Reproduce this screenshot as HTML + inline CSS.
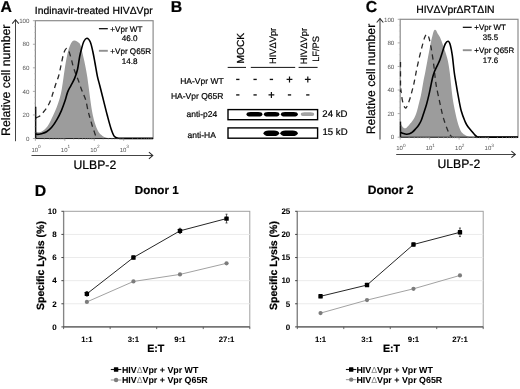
<!DOCTYPE html>
<html><head><meta charset="utf-8"><title>Figure</title>
<style>
html,body{margin:0;padding:0;background:#fff;width:520px;height:389px;overflow:hidden}
svg{display:block;filter:blur(0.4px)}
text{font-family:"Liberation Sans",sans-serif;text-rendering:geometricPrecision}
</style></head>
<body><svg width="520" height="389" viewBox="0 0 520 389">
<rect x="0" y="0" width="520" height="389" fill="#fff"/>
<text x="0.40" y="11.80" font-size="15.80" text-anchor="start" font-weight="bold" stroke="#000" stroke-width="0.22" fill="#000">A</text>
<text x="170.70" y="12.40" font-size="15.80" text-anchor="start" font-weight="bold" stroke="#000" stroke-width="0.22" fill="#000">B</text>
<text x="365.70" y="12.30" font-size="15.80" text-anchor="start" font-weight="bold" stroke="#000" stroke-width="0.22" fill="#000">C</text>
<text x="34.70" y="195.60" font-size="15.80" text-anchor="start" font-weight="bold" stroke="#000" stroke-width="0.22" fill="#000">D</text>
<path d="M35.50,131.50 C36.17,131.62 38.08,132.47 39.50,132.20 C40.92,131.93 42.50,131.15 44.00,129.90 C45.50,128.65 47.00,127.07 48.50,124.70 C50.00,122.33 51.60,118.70 53.00,115.70 C54.40,112.70 55.77,109.65 56.90,106.70 C58.03,103.75 58.98,100.95 59.80,98.00 C60.62,95.05 61.20,92.30 61.80,89.00 C62.40,85.70 62.85,81.93 63.40,78.20 C63.95,74.47 64.57,69.97 65.10,66.60 C65.63,63.23 66.07,60.68 66.60,58.00 C67.13,55.32 67.70,52.67 68.30,50.50 C68.90,48.33 69.55,46.48 70.20,45.00 C70.85,43.52 71.53,42.37 72.20,41.60 C72.87,40.83 73.38,40.43 74.20,40.40 C75.02,40.37 76.18,40.87 77.10,41.40 C78.02,41.93 79.02,42.58 79.70,43.60 C80.38,44.62 80.70,45.77 81.20,47.50 C81.70,49.23 82.18,51.75 82.70,54.00 C83.22,56.25 83.77,58.50 84.30,61.00 C84.83,63.50 85.40,66.33 85.90,69.00 C86.40,71.67 86.88,74.33 87.30,77.00 C87.72,79.67 88.00,82.00 88.40,85.00 C88.80,88.00 89.23,91.50 89.70,95.00 C90.17,98.50 90.65,102.50 91.20,106.00 C91.75,109.50 92.37,113.07 93.00,116.00 C93.63,118.93 94.25,121.27 95.00,123.60 C95.75,125.93 96.60,128.23 97.50,130.00 C98.40,131.77 99.15,133.00 100.40,134.20 C101.65,135.40 103.40,136.48 105.00,137.20 C106.60,137.92 109.17,138.28 110.00,138.50 L110.00,138.50 L35.50,138.50 Z" fill="#9c9c9c" stroke="none"/>
<path d="M35.60,118.00 C36.00,117.83 37.25,117.38 38.00,117.00 C38.75,116.62 39.18,116.53 40.10,115.70 C41.02,114.87 42.42,113.28 43.50,112.00 C44.58,110.72 45.65,109.42 46.60,108.00 C47.55,106.58 48.45,105.00 49.20,103.50 C49.95,102.00 50.48,100.72 51.10,99.00 C51.72,97.28 52.12,95.70 52.90,93.20 C53.68,90.70 54.83,86.90 55.80,84.00 C56.77,81.10 57.83,78.90 58.70,75.80 C59.57,72.70 60.28,68.70 61.00,65.40 C61.72,62.10 62.40,58.40 63.00,56.00 C63.60,53.60 64.05,52.25 64.60,51.00 C65.15,49.75 65.70,48.77 66.30,48.50 C66.90,48.23 67.60,48.45 68.20,49.40 C68.80,50.35 69.33,52.43 69.90,54.20 C70.47,55.97 71.05,57.93 71.60,60.00 C72.15,62.07 72.50,64.27 73.20,66.60 C73.90,68.93 74.93,71.68 75.80,74.00 C76.67,76.32 77.48,78.00 78.40,80.50 C79.32,83.00 80.40,86.58 81.30,89.00 C82.20,91.42 83.03,93.07 83.80,95.00 C84.57,96.93 85.18,97.90 85.90,100.60 C86.62,103.30 87.42,108.30 88.10,111.20 C88.78,114.10 89.35,115.70 90.00,118.00 C90.65,120.30 91.33,122.83 92.00,125.00 C92.67,127.17 93.37,129.17 94.00,131.00 C94.63,132.83 95.22,134.77 95.80,136.00 C96.38,137.23 97.22,138.00 97.50,138.40" fill="none" stroke="#2a2a2a" stroke-width="1.3" stroke-dasharray="5.2,4.0"/>
<rect x="35.40" y="20.70" width="117.70" height="117.80" fill="none" stroke="#8c8c8c" stroke-width="1.2"/>
<line x1="35.40" y1="138.50" x2="153.10" y2="138.50" stroke="#222" stroke-width="1"/>
<line x1="35.7" y1="106.8" x2="35.7" y2="138.5" stroke="#111" stroke-width="1.4"/>
<path d="M35.50,133.70 C35.85,133.82 36.62,134.40 37.60,134.40 C38.58,134.40 39.90,134.13 41.40,133.70 C42.90,133.27 44.88,132.87 46.60,131.80 C48.32,130.73 49.98,129.33 51.70,127.30 C53.42,125.27 55.28,122.38 56.90,119.60 C58.52,116.82 60.02,113.82 61.40,110.60 C62.78,107.38 64.17,103.38 65.20,100.30 C66.23,97.22 66.65,94.55 67.60,92.10 C68.55,89.65 69.73,87.88 70.90,85.60 C72.07,83.32 73.50,81.08 74.60,78.40 C75.70,75.72 76.67,73.07 77.50,69.50 C78.33,65.93 78.92,60.50 79.60,57.00 C80.28,53.50 80.90,51.08 81.60,48.50 C82.30,45.92 82.92,43.20 83.80,41.50 C84.68,39.80 85.82,38.22 86.90,38.30 C87.98,38.38 89.32,39.80 90.30,42.00 C91.28,44.20 92.02,48.00 92.80,51.50 C93.58,55.00 94.23,58.87 95.00,63.00 C95.77,67.13 96.58,72.47 97.40,76.30 C98.22,80.13 98.88,81.98 99.90,86.00 C100.92,90.02 102.25,95.43 103.50,100.40 C104.75,105.37 106.12,111.00 107.40,115.80 C108.68,120.60 110.02,125.73 111.20,129.20 C112.38,132.67 113.28,135.10 114.50,136.60 C115.72,138.10 116.75,137.90 118.50,138.20 C120.25,138.50 119.25,138.37 125.00,138.40 C130.75,138.43 148.33,138.40 153.00,138.40" fill="none" stroke="#000" stroke-width="1.6" stroke-linejoin="round"/>
<line x1="32.90" y1="138.50" x2="35.40" y2="138.50" stroke="#999" stroke-width="0.8"/>
<text x="29.50" y="140.70" font-size="6.20" text-anchor="end" fill="#555">0</text>
<line x1="34.10" y1="132.61" x2="35.40" y2="132.61" stroke="#bbb" stroke-width="0.6"/>
<line x1="34.10" y1="126.72" x2="35.40" y2="126.72" stroke="#bbb" stroke-width="0.6"/>
<line x1="34.10" y1="120.83" x2="35.40" y2="120.83" stroke="#bbb" stroke-width="0.6"/>
<line x1="32.90" y1="114.94" x2="35.40" y2="114.94" stroke="#999" stroke-width="0.8"/>
<text x="29.50" y="117.14" font-size="6.20" text-anchor="end" fill="#555">20</text>
<line x1="34.10" y1="109.05" x2="35.40" y2="109.05" stroke="#bbb" stroke-width="0.6"/>
<line x1="34.10" y1="103.16" x2="35.40" y2="103.16" stroke="#bbb" stroke-width="0.6"/>
<line x1="34.10" y1="97.27" x2="35.40" y2="97.27" stroke="#bbb" stroke-width="0.6"/>
<line x1="32.90" y1="91.38" x2="35.40" y2="91.38" stroke="#999" stroke-width="0.8"/>
<text x="29.50" y="93.58" font-size="6.20" text-anchor="end" fill="#555">40</text>
<line x1="34.10" y1="85.49" x2="35.40" y2="85.49" stroke="#bbb" stroke-width="0.6"/>
<line x1="34.10" y1="79.60" x2="35.40" y2="79.60" stroke="#bbb" stroke-width="0.6"/>
<line x1="34.10" y1="73.71" x2="35.40" y2="73.71" stroke="#bbb" stroke-width="0.6"/>
<line x1="32.90" y1="67.82" x2="35.40" y2="67.82" stroke="#999" stroke-width="0.8"/>
<text x="29.50" y="70.02" font-size="6.20" text-anchor="end" fill="#555">60</text>
<line x1="34.10" y1="61.93" x2="35.40" y2="61.93" stroke="#bbb" stroke-width="0.6"/>
<line x1="34.10" y1="56.04" x2="35.40" y2="56.04" stroke="#bbb" stroke-width="0.6"/>
<line x1="34.10" y1="50.15" x2="35.40" y2="50.15" stroke="#bbb" stroke-width="0.6"/>
<line x1="32.90" y1="44.26" x2="35.40" y2="44.26" stroke="#999" stroke-width="0.8"/>
<text x="29.50" y="46.46" font-size="6.20" text-anchor="end" fill="#555">80</text>
<line x1="34.10" y1="38.37" x2="35.40" y2="38.37" stroke="#bbb" stroke-width="0.6"/>
<line x1="34.10" y1="32.48" x2="35.40" y2="32.48" stroke="#bbb" stroke-width="0.6"/>
<line x1="34.10" y1="26.59" x2="35.40" y2="26.59" stroke="#bbb" stroke-width="0.6"/>
<line x1="32.90" y1="20.70" x2="35.40" y2="20.70" stroke="#999" stroke-width="0.8"/>
<text x="29.50" y="22.90" font-size="6.20" text-anchor="end" fill="#555">100</text>
<line x1="35.40" y1="138.50" x2="35.40" y2="140.80" stroke="#999" stroke-width="0.8"/>
<text x="38.10" y="151.70" font-size="6.00" text-anchor="end" fill="#555">10</text>
<text x="38.10" y="147.80" font-size="4.70" text-anchor="start" fill="#555">0</text>
<line x1="44.26" y1="138.50" x2="44.26" y2="139.80" stroke="#bbb" stroke-width="0.6"/>
<line x1="49.44" y1="138.50" x2="49.44" y2="139.80" stroke="#bbb" stroke-width="0.6"/>
<line x1="53.12" y1="138.50" x2="53.12" y2="139.80" stroke="#bbb" stroke-width="0.6"/>
<line x1="55.97" y1="138.50" x2="55.97" y2="139.80" stroke="#bbb" stroke-width="0.6"/>
<line x1="58.30" y1="138.50" x2="58.30" y2="139.80" stroke="#bbb" stroke-width="0.6"/>
<line x1="60.27" y1="138.50" x2="60.27" y2="139.80" stroke="#bbb" stroke-width="0.6"/>
<line x1="61.97" y1="138.50" x2="61.97" y2="139.80" stroke="#bbb" stroke-width="0.6"/>
<line x1="63.48" y1="138.50" x2="63.48" y2="139.80" stroke="#bbb" stroke-width="0.6"/>
<line x1="64.82" y1="138.50" x2="64.82" y2="140.80" stroke="#999" stroke-width="0.8"/>
<text x="67.52" y="151.70" font-size="6.00" text-anchor="end" fill="#555">10</text>
<text x="67.52" y="147.80" font-size="4.70" text-anchor="start" fill="#555">1</text>
<line x1="73.68" y1="138.50" x2="73.68" y2="139.80" stroke="#bbb" stroke-width="0.6"/>
<line x1="78.86" y1="138.50" x2="78.86" y2="139.80" stroke="#bbb" stroke-width="0.6"/>
<line x1="82.54" y1="138.50" x2="82.54" y2="139.80" stroke="#bbb" stroke-width="0.6"/>
<line x1="85.39" y1="138.50" x2="85.39" y2="139.80" stroke="#bbb" stroke-width="0.6"/>
<line x1="87.72" y1="138.50" x2="87.72" y2="139.80" stroke="#bbb" stroke-width="0.6"/>
<line x1="89.69" y1="138.50" x2="89.69" y2="139.80" stroke="#bbb" stroke-width="0.6"/>
<line x1="91.40" y1="138.50" x2="91.40" y2="139.80" stroke="#bbb" stroke-width="0.6"/>
<line x1="92.90" y1="138.50" x2="92.90" y2="139.80" stroke="#bbb" stroke-width="0.6"/>
<line x1="94.25" y1="138.50" x2="94.25" y2="140.80" stroke="#999" stroke-width="0.8"/>
<text x="96.95" y="151.70" font-size="6.00" text-anchor="end" fill="#555">10</text>
<text x="96.95" y="147.80" font-size="4.70" text-anchor="start" fill="#555">2</text>
<line x1="103.11" y1="138.50" x2="103.11" y2="139.80" stroke="#bbb" stroke-width="0.6"/>
<line x1="108.29" y1="138.50" x2="108.29" y2="139.80" stroke="#bbb" stroke-width="0.6"/>
<line x1="111.97" y1="138.50" x2="111.97" y2="139.80" stroke="#bbb" stroke-width="0.6"/>
<line x1="114.82" y1="138.50" x2="114.82" y2="139.80" stroke="#bbb" stroke-width="0.6"/>
<line x1="117.15" y1="138.50" x2="117.15" y2="139.80" stroke="#bbb" stroke-width="0.6"/>
<line x1="119.12" y1="138.50" x2="119.12" y2="139.80" stroke="#bbb" stroke-width="0.6"/>
<line x1="120.82" y1="138.50" x2="120.82" y2="139.80" stroke="#bbb" stroke-width="0.6"/>
<line x1="122.33" y1="138.50" x2="122.33" y2="139.80" stroke="#bbb" stroke-width="0.6"/>
<line x1="123.67" y1="138.50" x2="123.67" y2="140.80" stroke="#999" stroke-width="0.8"/>
<text x="126.37" y="151.70" font-size="6.00" text-anchor="end" fill="#555">10</text>
<text x="126.37" y="147.80" font-size="4.70" text-anchor="start" fill="#555">3</text>
<line x1="132.53" y1="138.50" x2="132.53" y2="139.80" stroke="#bbb" stroke-width="0.6"/>
<line x1="137.71" y1="138.50" x2="137.71" y2="139.80" stroke="#bbb" stroke-width="0.6"/>
<line x1="141.39" y1="138.50" x2="141.39" y2="139.80" stroke="#bbb" stroke-width="0.6"/>
<line x1="144.24" y1="138.50" x2="144.24" y2="139.80" stroke="#bbb" stroke-width="0.6"/>
<line x1="146.57" y1="138.50" x2="146.57" y2="139.80" stroke="#bbb" stroke-width="0.6"/>
<line x1="148.54" y1="138.50" x2="148.54" y2="139.80" stroke="#bbb" stroke-width="0.6"/>
<line x1="150.25" y1="138.50" x2="150.25" y2="139.80" stroke="#bbb" stroke-width="0.6"/>
<line x1="151.75" y1="138.50" x2="151.75" y2="139.80" stroke="#bbb" stroke-width="0.6"/>
<path d="M400.30,122.00 C400.52,122.53 401.12,124.30 401.60,125.20 C402.08,126.10 402.53,126.88 403.20,127.40 C403.87,127.92 404.80,128.48 405.60,128.30 C406.40,128.12 407.23,127.08 408.00,126.30 C408.77,125.52 409.48,124.50 410.20,123.60 C410.92,122.70 411.60,121.87 412.30,120.90 C413.00,119.93 413.75,119.02 414.40,117.80 C415.05,116.58 415.63,115.23 416.20,113.60 C416.77,111.97 417.27,110.02 417.80,108.00 C418.33,105.98 418.87,103.67 419.40,101.50 C419.93,99.33 420.35,98.25 421.00,95.00 C421.65,91.75 422.58,85.83 423.30,82.00 C424.02,78.17 424.65,75.37 425.30,72.00 C425.95,68.63 426.57,65.20 427.20,61.80 C427.83,58.40 428.45,55.02 429.10,51.60 C429.75,48.18 430.48,44.20 431.10,41.30 C431.72,38.40 432.32,35.98 432.80,34.20 C433.28,32.42 433.62,31.35 434.00,30.60 C434.38,29.85 434.73,29.70 435.10,29.70 C435.47,29.70 435.78,29.98 436.20,30.60 C436.62,31.22 436.95,32.27 437.60,33.40 C438.25,34.53 439.27,35.65 440.10,37.40 C440.93,39.15 441.75,41.53 442.60,43.90 C443.45,46.27 444.33,48.82 445.20,51.60 C446.07,54.38 447.05,57.20 447.80,60.60 C448.55,64.00 449.17,68.10 449.70,72.00 C450.23,75.90 450.58,80.17 451.00,84.00 C451.42,87.83 451.77,91.67 452.20,95.00 C452.63,98.33 453.05,100.92 453.60,104.00 C454.15,107.08 454.87,110.57 455.50,113.50 C456.13,116.43 456.73,119.18 457.40,121.60 C458.07,124.02 458.77,126.17 459.50,128.00 C460.23,129.83 460.75,131.35 461.80,132.60 C462.85,133.85 464.43,134.73 465.80,135.50 C467.17,136.27 469.30,136.92 470.00,137.20 L470.00,137.20 L400.30,137.20 Z" fill="#9c9c9c" stroke="none"/>
<path d="M400.60,88.00 C400.92,90.17 401.77,97.73 402.50,101.00 C403.23,104.27 404.25,106.68 405.00,107.60 C405.75,108.52 406.20,107.93 407.00,106.50 C407.80,105.07 408.97,101.55 409.80,99.00 C410.63,96.45 411.37,93.53 412.00,91.20 C412.63,88.87 413.07,87.37 413.60,85.00 C414.13,82.63 414.65,79.78 415.20,77.00 C415.75,74.22 416.18,71.68 416.90,68.30 C417.62,64.92 418.63,60.35 419.50,56.70 C420.37,53.05 421.25,49.58 422.10,46.40 C422.95,43.22 423.85,39.63 424.60,37.60 C425.35,35.57 426.00,34.47 426.60,34.20 C427.20,33.93 427.75,35.20 428.20,36.00 C428.65,36.80 428.82,37.05 429.30,39.00 C429.78,40.95 430.48,44.32 431.10,47.70 C431.72,51.08 432.47,55.65 433.00,59.30 C433.53,62.95 433.92,66.32 434.30,69.60 C434.68,72.88 434.93,76.10 435.30,79.00 C435.67,81.90 435.90,83.75 436.50,87.00 C437.10,90.25 438.18,95.17 438.90,98.50 C439.62,101.83 440.17,104.17 440.80,107.00 C441.43,109.83 442.00,112.83 442.70,115.50 C443.40,118.17 444.23,120.70 445.00,123.00 C445.77,125.30 446.63,127.63 447.30,129.30 C447.97,130.97 448.45,131.95 449.00,133.00 C449.55,134.05 450.02,134.92 450.60,135.60 C451.18,136.28 452.18,136.85 452.50,137.10" fill="none" stroke="#2a2a2a" stroke-width="1.3" stroke-dasharray="5.2,4.0"/>
<rect x="400.20" y="19.30" width="117.80" height="117.90" fill="none" stroke="#8c8c8c" stroke-width="1.2"/>
<line x1="400.20" y1="137.20" x2="518.00" y2="137.20" stroke="#222" stroke-width="1"/>
<line x1="400.5" y1="62" x2="400.5" y2="92" stroke="#222" stroke-width="1.3" stroke-dasharray="5.2,4.0"/><line x1="400.5" y1="121.6" x2="400.5" y2="137" stroke="#111" stroke-width="1.4"/>
<path d="M400.30,132.20 C400.83,132.43 402.45,133.27 403.50,133.60 C404.55,133.93 405.60,134.17 406.60,134.20 C407.60,134.23 408.53,134.13 409.50,133.80 C410.47,133.47 411.40,133.00 412.40,132.20 C413.40,131.40 414.47,130.17 415.50,129.00 C416.53,127.83 417.65,126.62 418.60,125.20 C419.55,123.78 420.37,122.45 421.20,120.50 C422.03,118.55 422.72,116.17 423.60,113.50 C424.48,110.83 425.63,107.52 426.50,104.50 C427.37,101.48 428.08,98.48 428.80,95.40 C429.52,92.32 430.18,88.90 430.80,86.00 C431.42,83.10 431.92,80.33 432.50,78.00 C433.08,75.67 433.57,73.95 434.30,72.00 C435.03,70.05 436.20,67.80 436.90,66.30 C437.60,64.80 437.97,64.17 438.50,63.00 C439.03,61.83 439.42,61.20 440.10,59.30 C440.78,57.40 441.75,54.15 442.60,51.60 C443.45,49.05 444.27,45.72 445.20,44.00 C446.13,42.28 447.35,41.13 448.20,41.30 C449.05,41.47 449.62,42.65 450.30,45.00 C450.98,47.35 451.65,50.90 452.30,55.40 C452.95,59.90 453.62,67.57 454.20,72.00 C454.78,76.43 455.15,78.10 455.80,82.00 C456.45,85.90 457.20,90.60 458.10,95.40 C459.00,100.20 460.03,106.43 461.20,110.80 C462.37,115.17 463.97,118.93 465.10,121.60 C466.23,124.27 466.93,125.23 468.00,126.80 C469.07,128.37 470.42,129.72 471.50,131.00 C472.58,132.28 473.58,133.57 474.50,134.50 C475.42,135.43 476.08,136.17 477.00,136.60 C477.92,137.03 473.17,137.02 480.00,137.10 C486.83,137.18 511.67,137.10 518.00,137.10" fill="none" stroke="#000" stroke-width="1.6" stroke-linejoin="round"/>
<line x1="397.70" y1="137.20" x2="400.20" y2="137.20" stroke="#999" stroke-width="0.8"/>
<text x="394.30" y="139.40" font-size="6.20" text-anchor="end" fill="#555">0</text>
<line x1="398.90" y1="131.30" x2="400.20" y2="131.30" stroke="#bbb" stroke-width="0.6"/>
<line x1="398.90" y1="125.41" x2="400.20" y2="125.41" stroke="#bbb" stroke-width="0.6"/>
<line x1="398.90" y1="119.51" x2="400.20" y2="119.51" stroke="#bbb" stroke-width="0.6"/>
<line x1="397.70" y1="113.62" x2="400.20" y2="113.62" stroke="#999" stroke-width="0.8"/>
<text x="394.30" y="115.82" font-size="6.20" text-anchor="end" fill="#555">20</text>
<line x1="398.90" y1="107.72" x2="400.20" y2="107.72" stroke="#bbb" stroke-width="0.6"/>
<line x1="398.90" y1="101.83" x2="400.20" y2="101.83" stroke="#bbb" stroke-width="0.6"/>
<line x1="398.90" y1="95.93" x2="400.20" y2="95.93" stroke="#bbb" stroke-width="0.6"/>
<line x1="397.70" y1="90.04" x2="400.20" y2="90.04" stroke="#999" stroke-width="0.8"/>
<text x="394.30" y="92.24" font-size="6.20" text-anchor="end" fill="#555">40</text>
<line x1="398.90" y1="84.14" x2="400.20" y2="84.14" stroke="#bbb" stroke-width="0.6"/>
<line x1="398.90" y1="78.25" x2="400.20" y2="78.25" stroke="#bbb" stroke-width="0.6"/>
<line x1="398.90" y1="72.35" x2="400.20" y2="72.35" stroke="#bbb" stroke-width="0.6"/>
<line x1="397.70" y1="66.46" x2="400.20" y2="66.46" stroke="#999" stroke-width="0.8"/>
<text x="394.30" y="68.66" font-size="6.20" text-anchor="end" fill="#555">60</text>
<line x1="398.90" y1="60.56" x2="400.20" y2="60.56" stroke="#bbb" stroke-width="0.6"/>
<line x1="398.90" y1="54.67" x2="400.20" y2="54.67" stroke="#bbb" stroke-width="0.6"/>
<line x1="398.90" y1="48.77" x2="400.20" y2="48.77" stroke="#bbb" stroke-width="0.6"/>
<line x1="397.70" y1="42.88" x2="400.20" y2="42.88" stroke="#999" stroke-width="0.8"/>
<text x="394.30" y="45.08" font-size="6.20" text-anchor="end" fill="#555">80</text>
<line x1="398.90" y1="36.98" x2="400.20" y2="36.98" stroke="#bbb" stroke-width="0.6"/>
<line x1="398.90" y1="31.09" x2="400.20" y2="31.09" stroke="#bbb" stroke-width="0.6"/>
<line x1="398.90" y1="25.19" x2="400.20" y2="25.19" stroke="#bbb" stroke-width="0.6"/>
<line x1="397.70" y1="19.30" x2="400.20" y2="19.30" stroke="#999" stroke-width="0.8"/>
<text x="394.30" y="21.50" font-size="6.20" text-anchor="end" fill="#555">100</text>
<line x1="400.20" y1="137.20" x2="400.20" y2="139.50" stroke="#999" stroke-width="0.8"/>
<text x="402.90" y="150.40" font-size="6.00" text-anchor="end" fill="#555">10</text>
<text x="402.90" y="146.50" font-size="4.70" text-anchor="start" fill="#555">0</text>
<line x1="409.07" y1="137.20" x2="409.07" y2="138.50" stroke="#bbb" stroke-width="0.6"/>
<line x1="414.25" y1="137.20" x2="414.25" y2="138.50" stroke="#bbb" stroke-width="0.6"/>
<line x1="417.93" y1="137.20" x2="417.93" y2="138.50" stroke="#bbb" stroke-width="0.6"/>
<line x1="420.78" y1="137.20" x2="420.78" y2="138.50" stroke="#bbb" stroke-width="0.6"/>
<line x1="423.12" y1="137.20" x2="423.12" y2="138.50" stroke="#bbb" stroke-width="0.6"/>
<line x1="425.09" y1="137.20" x2="425.09" y2="138.50" stroke="#bbb" stroke-width="0.6"/>
<line x1="426.80" y1="137.20" x2="426.80" y2="138.50" stroke="#bbb" stroke-width="0.6"/>
<line x1="428.30" y1="137.20" x2="428.30" y2="138.50" stroke="#bbb" stroke-width="0.6"/>
<line x1="429.65" y1="137.20" x2="429.65" y2="139.50" stroke="#999" stroke-width="0.8"/>
<text x="432.35" y="150.40" font-size="6.00" text-anchor="end" fill="#555">10</text>
<text x="432.35" y="146.50" font-size="4.70" text-anchor="start" fill="#555">1</text>
<line x1="438.52" y1="137.20" x2="438.52" y2="138.50" stroke="#bbb" stroke-width="0.6"/>
<line x1="443.70" y1="137.20" x2="443.70" y2="138.50" stroke="#bbb" stroke-width="0.6"/>
<line x1="447.38" y1="137.20" x2="447.38" y2="138.50" stroke="#bbb" stroke-width="0.6"/>
<line x1="450.23" y1="137.20" x2="450.23" y2="138.50" stroke="#bbb" stroke-width="0.6"/>
<line x1="452.57" y1="137.20" x2="452.57" y2="138.50" stroke="#bbb" stroke-width="0.6"/>
<line x1="454.54" y1="137.20" x2="454.54" y2="138.50" stroke="#bbb" stroke-width="0.6"/>
<line x1="456.25" y1="137.20" x2="456.25" y2="138.50" stroke="#bbb" stroke-width="0.6"/>
<line x1="457.75" y1="137.20" x2="457.75" y2="138.50" stroke="#bbb" stroke-width="0.6"/>
<line x1="459.10" y1="137.20" x2="459.10" y2="139.50" stroke="#999" stroke-width="0.8"/>
<text x="461.80" y="150.40" font-size="6.00" text-anchor="end" fill="#555">10</text>
<text x="461.80" y="146.50" font-size="4.70" text-anchor="start" fill="#555">2</text>
<line x1="467.97" y1="137.20" x2="467.97" y2="138.50" stroke="#bbb" stroke-width="0.6"/>
<line x1="473.15" y1="137.20" x2="473.15" y2="138.50" stroke="#bbb" stroke-width="0.6"/>
<line x1="476.83" y1="137.20" x2="476.83" y2="138.50" stroke="#bbb" stroke-width="0.6"/>
<line x1="479.68" y1="137.20" x2="479.68" y2="138.50" stroke="#bbb" stroke-width="0.6"/>
<line x1="482.02" y1="137.20" x2="482.02" y2="138.50" stroke="#bbb" stroke-width="0.6"/>
<line x1="483.99" y1="137.20" x2="483.99" y2="138.50" stroke="#bbb" stroke-width="0.6"/>
<line x1="485.70" y1="137.20" x2="485.70" y2="138.50" stroke="#bbb" stroke-width="0.6"/>
<line x1="487.20" y1="137.20" x2="487.20" y2="138.50" stroke="#bbb" stroke-width="0.6"/>
<line x1="488.55" y1="137.20" x2="488.55" y2="139.50" stroke="#999" stroke-width="0.8"/>
<text x="491.25" y="150.40" font-size="6.00" text-anchor="end" fill="#555">10</text>
<text x="491.25" y="146.50" font-size="4.70" text-anchor="start" fill="#555">3</text>
<line x1="497.42" y1="137.20" x2="497.42" y2="138.50" stroke="#bbb" stroke-width="0.6"/>
<line x1="502.60" y1="137.20" x2="502.60" y2="138.50" stroke="#bbb" stroke-width="0.6"/>
<line x1="506.28" y1="137.20" x2="506.28" y2="138.50" stroke="#bbb" stroke-width="0.6"/>
<line x1="509.13" y1="137.20" x2="509.13" y2="138.50" stroke="#bbb" stroke-width="0.6"/>
<line x1="511.47" y1="137.20" x2="511.47" y2="138.50" stroke="#bbb" stroke-width="0.6"/>
<line x1="513.44" y1="137.20" x2="513.44" y2="138.50" stroke="#bbb" stroke-width="0.6"/>
<line x1="515.15" y1="137.20" x2="515.15" y2="138.50" stroke="#bbb" stroke-width="0.6"/>
<line x1="516.65" y1="137.20" x2="516.65" y2="138.50" stroke="#bbb" stroke-width="0.6"/>
<line x1="15.50" y1="19.70" x2="15.50" y2="141.20" stroke="#444" stroke-width="1.05"/>
<polyline points="12.20,23.60 15.50,19.70 18.80,23.60" fill="none" stroke="#2a2a2a" stroke-width="1.05"/>
<line x1="31.50" y1="155.50" x2="152.80" y2="155.50" stroke="#444" stroke-width="1.05"/>
<polyline points="148.90,152.20 152.80,155.50 148.90,158.80" fill="none" stroke="#2a2a2a" stroke-width="1.05"/>
<line x1="380.00" y1="18.60" x2="380.00" y2="139.60" stroke="#444" stroke-width="1.05"/>
<polyline points="376.70,22.50 380.00,18.60 383.30,22.50" fill="none" stroke="#2a2a2a" stroke-width="1.05"/>
<line x1="396.20" y1="154.40" x2="515.30" y2="154.40" stroke="#444" stroke-width="1.05"/>
<polyline points="511.40,151.10 515.30,154.40 511.40,157.70" fill="none" stroke="#2a2a2a" stroke-width="1.05"/>
<text x="9.90" y="80.30" font-size="12.30" text-anchor="middle" stroke="#000" stroke-width="0.22" fill="#000" transform="rotate(-90 9.90 80.30)">Relative cell number</text>
<text x="374.60" y="79.00" font-size="12.20" text-anchor="middle" stroke="#000" stroke-width="0.22" fill="#000" transform="rotate(-90 374.60 79.00)">Relative cell number</text>
<text x="73.50" y="168.90" font-size="12.20" text-anchor="start" stroke="#000" stroke-width="0.22" fill="#000">ULBP-2</text>
<text x="437.50" y="167.70" font-size="12.20" text-anchor="start" stroke="#000" stroke-width="0.22" fill="#000">ULBP-2</text>
<text x="34.80" y="13.80" font-size="10.35" text-anchor="start" stroke="#000" stroke-width="0.22" fill="#000">Indinavir-treated HIV&#916;Vpr</text>
<text x="416.20" y="12.70" font-size="10.40" text-anchor="start" stroke="#000" stroke-width="0.22" fill="#000">HIV&#916;Vpr&#916;RT&#916;IN</text>
<line x1="98.90" y1="28.70" x2="107.80" y2="28.70" stroke="#000" stroke-width="1.2"/>
<line x1="98.90" y1="50.80" x2="107.80" y2="50.80" stroke="#909090" stroke-width="1.9"/>
<text x="110.30" y="31.60" font-size="8.10" text-anchor="start" stroke="#000" stroke-width="0.20" fill="#000">+Vpr WT</text>
<text x="129.60" y="41.20" font-size="8.10" text-anchor="middle" stroke="#000" stroke-width="0.20" fill="#000">46.0</text>
<text x="110.30" y="54.00" font-size="8.10" text-anchor="start" stroke="#000" stroke-width="0.20" fill="#000">+Vpr Q65R</text>
<text x="129.60" y="63.70" font-size="8.10" text-anchor="middle" stroke="#000" stroke-width="0.20" fill="#000">14.8</text>
<line x1="462.80" y1="27.30" x2="471.70" y2="27.30" stroke="#000" stroke-width="1.2"/>
<line x1="462.80" y1="50.20" x2="471.70" y2="50.20" stroke="#909090" stroke-width="1.9"/>
<text x="474.30" y="30.20" font-size="7.95" text-anchor="start" stroke="#000" stroke-width="0.20" fill="#000">+Vpr WT</text>
<text x="490.50" y="39.80" font-size="7.95" text-anchor="middle" stroke="#000" stroke-width="0.20" fill="#000">35.5</text>
<text x="474.30" y="53.40" font-size="7.95" text-anchor="start" stroke="#000" stroke-width="0.20" fill="#000">+Vpr Q65R</text>
<text x="490.50" y="63.10" font-size="7.95" text-anchor="middle" stroke="#000" stroke-width="0.20" fill="#000">17.6</text>
<text x="223.70" y="84.40" font-size="8.50" text-anchor="end" stroke="#000" stroke-width="0.20" fill="#000">HA-Vpr WT</text>
<text x="223.40" y="99.00" font-size="8.50" text-anchor="end" stroke="#000" stroke-width="0.20" fill="#000">HA-Vpr Q65R</text>
<text x="217.20" y="117.00" font-size="8.50" text-anchor="end" stroke="#000" stroke-width="0.20" fill="#000">anti-p24</text>
<text x="215.80" y="137.60" font-size="8.50" text-anchor="end" stroke="#000" stroke-width="0.20" fill="#000">anti-HA</text>
<rect x="236.15" y="78.75" width="3.3" height="1.35" fill="#111"/>
<rect x="253.45" y="78.75" width="3.3" height="1.35" fill="#111"/>
<rect x="269.75" y="78.75" width="3.3" height="1.35" fill="#111"/>
<path d="M286.60,79.40 h5.8 M289.50,76.40 v6" stroke="#111" stroke-width="1.2" fill="none"/>
<path d="M304.90,79.40 h5.8 M307.80,76.40 v6" stroke="#111" stroke-width="1.2" fill="none"/>
<rect x="236.15" y="94.25" width="3.3" height="1.35" fill="#111"/>
<rect x="253.45" y="94.25" width="3.3" height="1.35" fill="#111"/>
<path d="M268.50,94.90 h5.8 M271.40,91.90 v6" stroke="#111" stroke-width="1.2" fill="none"/>
<rect x="287.85" y="94.25" width="3.3" height="1.35" fill="#111"/>
<rect x="306.15" y="94.25" width="3.3" height="1.35" fill="#111"/>
<text x="244.40" y="48.20" font-size="10.20" text-anchor="middle" stroke="#000" stroke-width="0.22" fill="#000" transform="rotate(-90 244.40 48.20)">MOCK</text>
<text x="276.20" y="45.90" font-size="9.30" text-anchor="middle" stroke="#000" stroke-width="0.20" fill="#000" transform="rotate(-90 276.20 45.90)">HIV&#916;Vpr</text>
<text x="307.10" y="46.10" font-size="9.30" text-anchor="middle" stroke="#000" stroke-width="0.20" fill="#000" transform="rotate(-90 307.10 46.10)">HIV&#916;Vpr</text>
<text x="319.30" y="48.90" font-size="9.30" text-anchor="middle" stroke="#000" stroke-width="0.20" fill="#000" transform="rotate(-90 319.30 48.90)">LF/PS</text>
<line x1="227.70" y1="67.4" x2="246.00" y2="67.4" stroke="#111" stroke-width="1.0"/>
<line x1="250.80" y1="67.4" x2="295.20" y2="67.4" stroke="#111" stroke-width="1.0"/>
<line x1="298.60" y1="67.4" x2="317.60" y2="67.4" stroke="#111" stroke-width="1.0"/>
<rect x="228.0" y="109.6" width="89.6" height="10.1" fill="#fff" stroke="#000" stroke-width="1.4"/>
<rect x="228.0" y="127.9" width="89.6" height="10.3" fill="#fff" stroke="#000" stroke-width="1.4"/>
<defs><filter id="bl" x="-20%" y="-50%" width="140%" height="200%"><feGaussianBlur stdDeviation="0.7"/></filter></defs>
<rect x="246.50" y="112.00" width="15.90" height="4.60" rx="4.14" ry="2.30" fill="#050505" filter="url(#bl)"/>
<rect x="263.90" y="112.00" width="15.50" height="4.60" rx="4.14" ry="2.30" fill="#050505" filter="url(#bl)"/>
<rect x="280.90" y="112.00" width="16.90" height="4.60" rx="4.14" ry="2.30" fill="#050505" filter="url(#bl)"/>
<rect x="300.80" y="112.20" width="13.40" height="3.90" rx="3.51" ry="1.95" fill="#a2a2a2" filter="url(#bl)"/>
<rect x="263.50" y="130.40" width="15.70" height="5.70" rx="5.13" ry="2.85" fill="#050505" filter="url(#bl)"/>
<rect x="280.30" y="130.40" width="17.50" height="5.70" rx="5.13" ry="2.85" fill="#050505" filter="url(#bl)"/>
<text x="322.30" y="116.90" font-size="9.60" text-anchor="start" stroke="#000" stroke-width="0.20" fill="#000">24 kD</text>
<text x="322.50" y="135.40" font-size="9.60" text-anchor="start" stroke="#000" stroke-width="0.20" fill="#000">15 kD</text>
<rect x="63.60" y="211.30" width="186.20" height="115.60" fill="none" stroke="#a0a0a0" stroke-width="1"/>
<line x1="63.60" y1="303.78" x2="249.80" y2="303.78" stroke="#ebebeb" stroke-width="1"/>
<line x1="63.60" y1="280.66" x2="249.80" y2="280.66" stroke="#ebebeb" stroke-width="1"/>
<line x1="63.60" y1="257.54" x2="249.80" y2="257.54" stroke="#ebebeb" stroke-width="1"/>
<line x1="63.60" y1="234.42" x2="249.80" y2="234.42" stroke="#ebebeb" stroke-width="1"/>
<line x1="63.60" y1="211.30" x2="63.60" y2="326.90" stroke="#858585" stroke-width="1.3"/>
<line x1="63.60" y1="326.90" x2="249.80" y2="326.90" stroke="#5a5a5a" stroke-width="1.3"/>
<line x1="61.40" y1="326.90" x2="63.60" y2="326.90" stroke="#333" stroke-width="0.9"/>
<text x="56.70" y="329.70" font-size="8.00" text-anchor="end" font-weight="bold" stroke="#000" stroke-width="0.05" fill="#000">0</text>
<line x1="61.40" y1="303.78" x2="63.60" y2="303.78" stroke="#333" stroke-width="0.9"/>
<text x="56.70" y="306.58" font-size="8.00" text-anchor="end" font-weight="bold" stroke="#000" stroke-width="0.05" fill="#000">2</text>
<line x1="61.40" y1="280.66" x2="63.60" y2="280.66" stroke="#333" stroke-width="0.9"/>
<text x="56.70" y="283.46" font-size="8.00" text-anchor="end" font-weight="bold" stroke="#000" stroke-width="0.05" fill="#000">4</text>
<line x1="61.40" y1="257.54" x2="63.60" y2="257.54" stroke="#333" stroke-width="0.9"/>
<text x="56.70" y="260.34" font-size="8.00" text-anchor="end" font-weight="bold" stroke="#000" stroke-width="0.05" fill="#000">6</text>
<line x1="61.40" y1="234.42" x2="63.60" y2="234.42" stroke="#333" stroke-width="0.9"/>
<text x="56.70" y="237.22" font-size="8.00" text-anchor="end" font-weight="bold" stroke="#000" stroke-width="0.05" fill="#000">8</text>
<line x1="61.40" y1="211.30" x2="63.60" y2="211.30" stroke="#333" stroke-width="0.9"/>
<text x="56.70" y="214.10" font-size="8.00" text-anchor="end" font-weight="bold" stroke="#000" stroke-width="0.05" fill="#000">10</text>
<line x1="63.60" y1="326.90" x2="63.60" y2="329.10" stroke="#555" stroke-width="0.9"/>
<line x1="110.15" y1="326.90" x2="110.15" y2="329.10" stroke="#555" stroke-width="0.9"/>
<line x1="156.70" y1="326.90" x2="156.70" y2="329.10" stroke="#555" stroke-width="0.9"/>
<line x1="203.25" y1="326.90" x2="203.25" y2="329.10" stroke="#555" stroke-width="0.9"/>
<line x1="249.80" y1="326.90" x2="249.80" y2="329.10" stroke="#555" stroke-width="0.9"/>
<text x="86.88" y="341.90" font-size="7.80" text-anchor="middle" font-weight="bold" stroke="#000" stroke-width="0.05" fill="#000">1:1</text>
<text x="133.43" y="341.90" font-size="7.80" text-anchor="middle" font-weight="bold" stroke="#000" stroke-width="0.05" fill="#000">3:1</text>
<text x="179.98" y="341.90" font-size="7.80" text-anchor="middle" font-weight="bold" stroke="#000" stroke-width="0.05" fill="#000">9:1</text>
<text x="226.53" y="341.90" font-size="7.80" text-anchor="middle" font-weight="bold" stroke="#000" stroke-width="0.05" fill="#000">27:1</text>
<polyline points="86.88,301.93 133.43,281.47 179.98,274.42 226.53,263.32" fill="none" stroke="#a2a2a2" stroke-width="1.0"/>
<circle cx="86.88" cy="301.93" r="2.1" fill="#7c7c7c"/>
<circle cx="133.43" cy="281.47" r="2.1" fill="#7c7c7c"/>
<circle cx="179.98" cy="274.42" r="2.1" fill="#7c7c7c"/>
<circle cx="226.53" cy="263.32" r="2.1" fill="#7c7c7c"/>
<polyline points="86.88,293.84 133.43,257.54 179.98,230.84 226.53,218.58" fill="none" stroke="#262626" stroke-width="1.0"/>
<line x1="86.88" y1="291.53" x2="86.88" y2="296.15" stroke="#333" stroke-width="0.8"/>
<line x1="85.88" y1="291.53" x2="87.88" y2="291.53" stroke="#333" stroke-width="0.8"/>
<line x1="85.88" y1="296.15" x2="87.88" y2="296.15" stroke="#333" stroke-width="0.8"/>
<rect x="84.67" y="291.64" width="4.4" height="4.4" rx="0.6" fill="#000"/>
<line x1="133.43" y1="256.15" x2="133.43" y2="258.93" stroke="#333" stroke-width="0.8"/>
<line x1="132.43" y1="256.15" x2="134.43" y2="256.15" stroke="#333" stroke-width="0.8"/>
<line x1="132.43" y1="258.93" x2="134.43" y2="258.93" stroke="#333" stroke-width="0.8"/>
<rect x="131.23" y="255.34" width="4.4" height="4.4" rx="0.6" fill="#000"/>
<line x1="179.98" y1="228.29" x2="179.98" y2="233.38" stroke="#333" stroke-width="0.8"/>
<line x1="178.98" y1="228.29" x2="180.98" y2="228.29" stroke="#333" stroke-width="0.8"/>
<line x1="178.98" y1="233.38" x2="180.98" y2="233.38" stroke="#333" stroke-width="0.8"/>
<rect x="177.78" y="228.64" width="4.4" height="4.4" rx="0.6" fill="#000"/>
<line x1="226.53" y1="214.19" x2="226.53" y2="222.98" stroke="#333" stroke-width="0.8"/>
<line x1="225.53" y1="214.19" x2="227.53" y2="214.19" stroke="#333" stroke-width="0.8"/>
<line x1="225.53" y1="222.98" x2="227.53" y2="222.98" stroke="#333" stroke-width="0.8"/>
<rect x="224.33" y="216.38" width="4.4" height="4.4" rx="0.6" fill="#000"/>
<text x="156.70" y="193.70" font-size="11.60" text-anchor="middle" font-weight="bold" stroke="#000" stroke-width="0.22" fill="#000">Donor 1</text>
<text x="43.70" y="265.50" font-size="10.50" text-anchor="middle" font-weight="bold" stroke="#000" stroke-width="0.22" fill="#000" transform="rotate(-90 43.70 265.50)">Specific Lysis (%)</text>
<text x="155.70" y="351.50" font-size="10.60" text-anchor="middle" font-weight="bold" stroke="#000" stroke-width="0.22" fill="#000">E:T</text>
<rect x="297.30" y="211.30" width="185.90" height="115.60" fill="none" stroke="#a0a0a0" stroke-width="1"/>
<line x1="297.30" y1="303.78" x2="483.20" y2="303.78" stroke="#ebebeb" stroke-width="1"/>
<line x1="297.30" y1="280.66" x2="483.20" y2="280.66" stroke="#ebebeb" stroke-width="1"/>
<line x1="297.30" y1="257.54" x2="483.20" y2="257.54" stroke="#ebebeb" stroke-width="1"/>
<line x1="297.30" y1="234.42" x2="483.20" y2="234.42" stroke="#ebebeb" stroke-width="1"/>
<line x1="297.30" y1="211.30" x2="297.30" y2="326.90" stroke="#858585" stroke-width="1.3"/>
<line x1="297.30" y1="326.90" x2="483.20" y2="326.90" stroke="#5a5a5a" stroke-width="1.3"/>
<line x1="295.10" y1="326.90" x2="297.30" y2="326.90" stroke="#333" stroke-width="0.9"/>
<text x="290.30" y="329.70" font-size="8.00" text-anchor="end" font-weight="bold" stroke="#000" stroke-width="0.05" fill="#000">0</text>
<line x1="295.10" y1="303.78" x2="297.30" y2="303.78" stroke="#333" stroke-width="0.9"/>
<text x="290.30" y="306.58" font-size="8.00" text-anchor="end" font-weight="bold" stroke="#000" stroke-width="0.05" fill="#000">5</text>
<line x1="295.10" y1="280.66" x2="297.30" y2="280.66" stroke="#333" stroke-width="0.9"/>
<text x="290.30" y="283.46" font-size="8.00" text-anchor="end" font-weight="bold" stroke="#000" stroke-width="0.05" fill="#000">10</text>
<line x1="295.10" y1="257.54" x2="297.30" y2="257.54" stroke="#333" stroke-width="0.9"/>
<text x="290.30" y="260.34" font-size="8.00" text-anchor="end" font-weight="bold" stroke="#000" stroke-width="0.05" fill="#000">15</text>
<line x1="295.10" y1="234.42" x2="297.30" y2="234.42" stroke="#333" stroke-width="0.9"/>
<text x="290.30" y="237.22" font-size="8.00" text-anchor="end" font-weight="bold" stroke="#000" stroke-width="0.05" fill="#000">20</text>
<line x1="295.10" y1="211.30" x2="297.30" y2="211.30" stroke="#333" stroke-width="0.9"/>
<text x="290.30" y="214.10" font-size="8.00" text-anchor="end" font-weight="bold" stroke="#000" stroke-width="0.05" fill="#000">25</text>
<line x1="297.30" y1="326.90" x2="297.30" y2="329.10" stroke="#555" stroke-width="0.9"/>
<line x1="343.77" y1="326.90" x2="343.77" y2="329.10" stroke="#555" stroke-width="0.9"/>
<line x1="390.25" y1="326.90" x2="390.25" y2="329.10" stroke="#555" stroke-width="0.9"/>
<line x1="436.73" y1="326.90" x2="436.73" y2="329.10" stroke="#555" stroke-width="0.9"/>
<line x1="483.20" y1="326.90" x2="483.20" y2="329.10" stroke="#555" stroke-width="0.9"/>
<text x="320.54" y="341.90" font-size="7.80" text-anchor="middle" font-weight="bold" stroke="#000" stroke-width="0.05" fill="#000">1:1</text>
<text x="367.01" y="341.90" font-size="7.80" text-anchor="middle" font-weight="bold" stroke="#000" stroke-width="0.05" fill="#000">3:1</text>
<text x="413.49" y="341.90" font-size="7.80" text-anchor="middle" font-weight="bold" stroke="#000" stroke-width="0.05" fill="#000">9:1</text>
<text x="459.96" y="341.90" font-size="7.80" text-anchor="middle" font-weight="bold" stroke="#000" stroke-width="0.05" fill="#000">27:1</text>
<polyline points="320.54,313.12 367.01,300.08 413.49,288.80 459.96,275.43" fill="none" stroke="#a2a2a2" stroke-width="1.0"/>
<circle cx="320.54" cy="313.12" r="2.1" fill="#7c7c7c"/>
<circle cx="367.01" cy="300.08" r="2.1" fill="#7c7c7c"/>
<circle cx="413.49" cy="288.80" r="2.1" fill="#7c7c7c"/>
<circle cx="459.96" cy="275.43" r="2.1" fill="#7c7c7c"/>
<polyline points="320.54,296.29 367.01,285.05 413.49,244.50 459.96,232.29" fill="none" stroke="#262626" stroke-width="1.0"/>
<line x1="320.54" y1="294.90" x2="320.54" y2="297.68" stroke="#333" stroke-width="0.8"/>
<line x1="319.54" y1="294.90" x2="321.54" y2="294.90" stroke="#333" stroke-width="0.8"/>
<line x1="319.54" y1="297.68" x2="321.54" y2="297.68" stroke="#333" stroke-width="0.8"/>
<rect x="318.34" y="294.09" width="4.4" height="4.4" rx="0.6" fill="#000"/>
<line x1="367.01" y1="284.13" x2="367.01" y2="285.98" stroke="#333" stroke-width="0.8"/>
<line x1="366.01" y1="284.13" x2="368.01" y2="284.13" stroke="#333" stroke-width="0.8"/>
<line x1="366.01" y1="285.98" x2="368.01" y2="285.98" stroke="#333" stroke-width="0.8"/>
<rect x="364.81" y="282.85" width="4.4" height="4.4" rx="0.6" fill="#000"/>
<line x1="413.49" y1="243.11" x2="413.49" y2="245.89" stroke="#333" stroke-width="0.8"/>
<line x1="412.49" y1="243.11" x2="414.49" y2="243.11" stroke="#333" stroke-width="0.8"/>
<line x1="412.49" y1="245.89" x2="414.49" y2="245.89" stroke="#333" stroke-width="0.8"/>
<rect x="411.29" y="242.30" width="4.4" height="4.4" rx="0.6" fill="#000"/>
<line x1="459.96" y1="228.04" x2="459.96" y2="236.55" stroke="#333" stroke-width="0.8"/>
<line x1="458.96" y1="228.04" x2="460.96" y2="228.04" stroke="#333" stroke-width="0.8"/>
<line x1="458.96" y1="236.55" x2="460.96" y2="236.55" stroke="#333" stroke-width="0.8"/>
<rect x="457.76" y="230.09" width="4.4" height="4.4" rx="0.6" fill="#000"/>
<text x="390.65" y="193.70" font-size="12.10" text-anchor="middle" font-weight="bold" stroke="#000" stroke-width="0.22" fill="#000">Donor 2</text>
<text x="276.90" y="265.50" font-size="10.50" text-anchor="middle" font-weight="bold" stroke="#000" stroke-width="0.22" fill="#000" transform="rotate(-90 276.90 265.50)">Specific Lysis (%)</text>
<text x="391.45" y="351.50" font-size="10.60" text-anchor="middle" font-weight="bold" stroke="#000" stroke-width="0.22" fill="#000">E:T</text>
<line x1="110.80" y1="369.50" x2="121.30" y2="369.50" stroke="#111" stroke-width="1.1"/>
<rect x="113.90" y="367.30" width="4.4" height="4.4" rx="0.5" fill="#000"/>
<line x1="110.80" y1="380.00" x2="121.30" y2="380.00" stroke="#a5a5a5" stroke-width="1.2"/>
<circle cx="116.10" cy="380.00" r="2.2" fill="#7c7c7c"/>
<text x="121.90" y="372.70" font-size="8.85" text-anchor="start" font-weight="bold" stroke="#000" stroke-width="0.05" fill="#000">HIV<tspan font-weight="normal" fill="#8c8c8c">&#916;</tspan>Vpr + Vpr WT</text>
<text x="121.90" y="383.20" font-size="8.85" text-anchor="start" font-weight="bold" stroke="#000" stroke-width="0.05" fill="#000">HIV<tspan font-weight="normal" fill="#8c8c8c">&#916;</tspan>Vpr + Vpr Q65R</text>
<line x1="345.90" y1="369.50" x2="356.40" y2="369.50" stroke="#111" stroke-width="1.1"/>
<rect x="349.00" y="367.30" width="4.4" height="4.4" rx="0.5" fill="#000"/>
<line x1="345.90" y1="379.60" x2="356.40" y2="379.60" stroke="#a5a5a5" stroke-width="1.2"/>
<circle cx="351.20" cy="379.60" r="2.2" fill="#7c7c7c"/>
<text x="356.40" y="372.70" font-size="8.85" text-anchor="start" font-weight="bold" stroke="#000" stroke-width="0.05" fill="#000">HIV<tspan font-weight="normal" fill="#8c8c8c">&#916;</tspan>Vpr + Vpr WT</text>
<text x="356.40" y="382.80" font-size="8.85" text-anchor="start" font-weight="bold" stroke="#000" stroke-width="0.05" fill="#000">HIV<tspan font-weight="normal" fill="#8c8c8c">&#916;</tspan>Vpr + Vpr Q65R</text>
</svg></body></html>
